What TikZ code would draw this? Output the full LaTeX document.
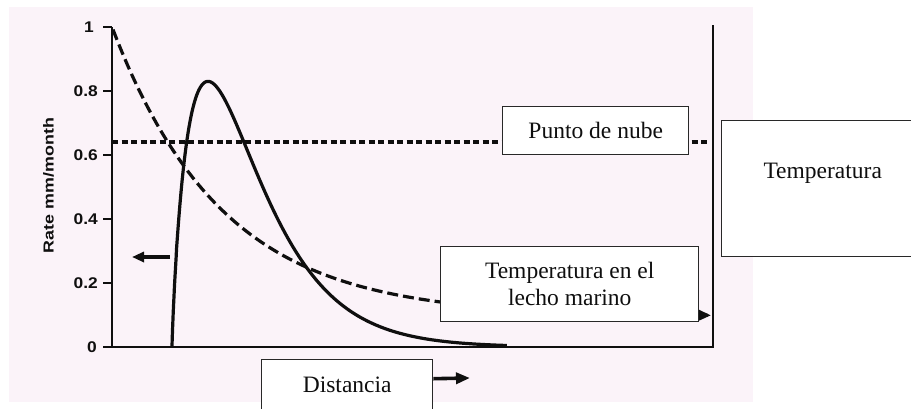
\documentclass[tikz,border=0pt]{standalone}
\usepackage{fontspec}
\newfontfamily\axfont{Liberation Sans}
\newfontfamily\boxfont{Liberation Serif}
\usetikzlibrary{arrows.meta}
\definecolor{paper}{RGB}{251,243,249}
\definecolor{ink}{RGB}{15,15,15}
\definecolor{frame}{RGB}{40,40,40}
\begin{document}
\begin{tikzpicture}[x=1pt,y=-1pt,
  boxstyle/.style={draw=frame, line width=1.4pt, fill=white, inner sep=0pt},
  lbl/.style={font=\boxfont\fontsize{23.5}{27}\selectfont, text=ink, align=center},
  ticklbl/.style={font=\axfont\bfseries\fontsize{15.5}{15.5}\selectfont, anchor=east, inner sep=0pt, text=ink},
  axisline/.style={line width=2.9pt, draw=ink},
  curve/.style={line width=3.2pt, draw=ink},
  bigtip/.style={-{Triangle[length=12pt,width=10pt]}}
]
\useasboundingbox (0,0) rectangle (911,408);
\fill[paper] (9,7) rectangle (753,402);

% axes
\coordinate (ytop) at (112,27);
\coordinate (orig) at (112,347);
\coordinate (xend) at (713,347);
\coordinate (rtop) at (713,25);
\draw[axisline] (ytop) -- (orig) -- (xend) -- (rtop);

% ticks and labels
\foreach \v/\t/\e in {27/1/94, 91/0.8/98, 155/0.6/98, 219/0.4/98, 283/0.2/98, 347/0/97}{
  \draw[axisline] (103,\v) -- (112,\v);
  \node[ticklbl] (t\v) at (\e,\v) {\scalebox{1.12}[1]{\t}};
}
\node[inner sep=0pt, text=ink] (ylab) at (48.5,185.5)
  {\rotatebox{90}{\resizebox{135pt}{10.5pt}{\axfont\bfseries Rate mm/month}}};

% dotted cloud-point line
\coordinate (cpL) at (112,142);
\coordinate (cpR) at (710,142);
\draw[curve, line width=3.8pt, dash pattern=on 6pt off 3.5pt] (cpL) -- (cpR);

% dashed seabed temperature curve
\draw[curve, dash pattern=on 11pt off 5pt, bigtip]
  plot[domain=113:711, samples=120, smooth] (\x,{347-320*(0.095+0.905*exp(-(\x-112)/110))});

% solid rate curve
\coordinate (rs) at (172,347);
\draw[curve, line join=round] (rs) -- plot[domain=0.2:18.3, samples=160, smooth]
  ({172+\x*\x},{347-265.6*exp(0.85*(ln(\x*\x/36)+1-\x*\x/36))});

% left arrow
\coordinate (laS) at (170,257);
\coordinate (laE) at (132,257);
\draw[curve, line width=3.6pt, bigtip] (laS) -- (laE);

% boxes
\node[boxstyle, lbl, minimum width=186pt, minimum height=48pt, anchor=north west]
  (nube) at (502,106) {Punto de nube};
\node[boxstyle, lbl, minimum width=258pt, minimum height=75pt, anchor=north west]
  (lecho) at (440,246) {Temperatura en el\\lecho marino};
\node[boxstyle, lbl, minimum width=171pt, minimum height=51pt, anchor=north west]
  (dist) at (261,359) {Distancia};
\node[boxstyle, lbl, text width=191pt, inner xsep=0pt, inner ysep=10pt,
  text height=48pt, text depth=68pt, anchor=north west]
  (temp) at (721,120) {\hspace*{-90pt}\makebox[191pt]{Temperatura}\hspace*{-101pt}};

% distance arrow
\coordinate (dEnd) at (470,378);
\draw[curve, line width=3.6pt, -{Triangle[length=14pt,width=11pt]}] ([yshift=6.5pt]dist.east) -- (dEnd);
\end{tikzpicture}
\end{document}
